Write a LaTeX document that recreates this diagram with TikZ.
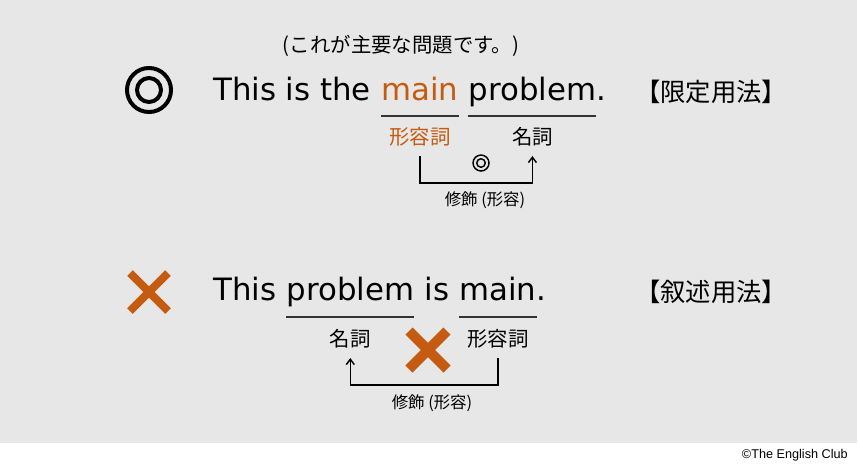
\documentclass[tikz,border=0pt]{standalone}
\usepackage{fontspec}
\setmainfont{DejaVu Sans}
\newfontfamily\jp{Noto Sans CJK JP}
\newfontfamily\credit{Liberation Sans}
\usetikzlibrary{arrows.meta}
\definecolor{bg}{RGB}{231,231,231}
\definecolor{accent}{RGB}{197,90,17}
\newcommand{\wordgap}{7.4pt}
\begin{document}
\begin{tikzpicture}[x=0.75pt,y=-0.75pt,
  sent/.style={anchor=base west,inner sep=0pt,font=\fontsize{23.1}{28}\selectfont},
  part/.style={inner sep=0pt,font=\jp\fontsize{15.3}{18}\selectfont},
  note/.style={inner sep=0pt,font=\jp\fontsize{12.3}{14}\selectfont},
  usage/.style={inner sep=0pt,font=\jp\fontsize{19}{22}\selectfont},
  uline/.style={draw=black!80,line width=0.8pt},
  link/.style={draw=black,line width=1.1pt,-{Straight Barb[length=4pt,width=6pt]}},
  ring/.style={draw=black,line width=#1},
  cross/.style={draw=accent,line width=#1}]
\useasboundingbox (0,0) rectangle (860,472);
\fill[bg] (0,0) rectangle (857,443);
\node[part] (gloss) at (401,46) {(これが主要な問題です。)};
\draw[ring=3pt] (149,90) circle (16.5pt) (149,90) circle (9pt);
\node[sent] (s1a) at (213,100) {This is the};
\node[sent,text=accent] (s1b) at ([xshift=\wordgap]s1a.base east) {main};
\node[sent] (s1c) at ([xshift=\wordgap]s1b.base east) {problem};
\node[sent] (s1d) at (s1c.base east) {.};
\draw[uline] (s1b.west |- 0,116) -- (s1b.east |- 0,116);
\draw[uline] (s1c.west |- 0,116) -- (s1c.east |- 0,116);
\node[part,text=accent] (adj1) at (s1b.south |- 0,137) {形容詞};
\node[part] (noun1) at (s1c.south |- 0,137) {名詞};
\draw[ring=1.1pt] (481,163) circle (6pt) (481,163) circle (3.2pt);
\draw[link] ([yshift=-7pt]adj1.south) -- (adj1.south |- 0,183) -| ([yshift=-7pt]noun1.south);
\node[note] (mod1) at (485,200) {修飾 (形容)};
\node[usage] (use1) at (711,92) {【限定用法】};
\draw[cross=6pt] (130,273) -- (168,311) (130,311) -- (168,273);
\node[sent] (s2a) at (213,300) {This};
\node[sent] (s2b) at ([xshift=\wordgap]s2a.base east) {problem};
\node[sent] (s2c) at ([xshift=\wordgap]s2b.base east) {is};
\node[sent] (s2d) at ([xshift=\wordgap]s2c.base east) {main};
\node[sent] (s2e) at (s2d.base east) {.};
\draw[uline] (s2b.west |- 0,317) -- (s2b.east |- 0,317);
\draw[uline] (s2d.west |- 0,317) -- (s2d.east |- 0,317);
\node[part] (noun2) at (s2b.south |- 0,339) {名詞};
\node[part] (adj2) at (s2d.south |- 0,339) {形容詞};
\draw[cross=7.5pt] (409,331) -- (447,369) (409,369) -- (447,331);
\draw[link] ([yshift=-7pt]adj2.south) -- (adj2.south |- 0,385) -| ([yshift=-7pt]noun2.south);
\node[note] (mod2) at (432,403) {修飾 (形容)};
\node[usage] (use2) at (711,292) {【叙述用法】};
\node[anchor=east,inner sep=0pt,font=\credit\fontsize{9.5}{11}\selectfont] (credit) at (848,455) {©The English Club};
\end{tikzpicture}
\end{document}
